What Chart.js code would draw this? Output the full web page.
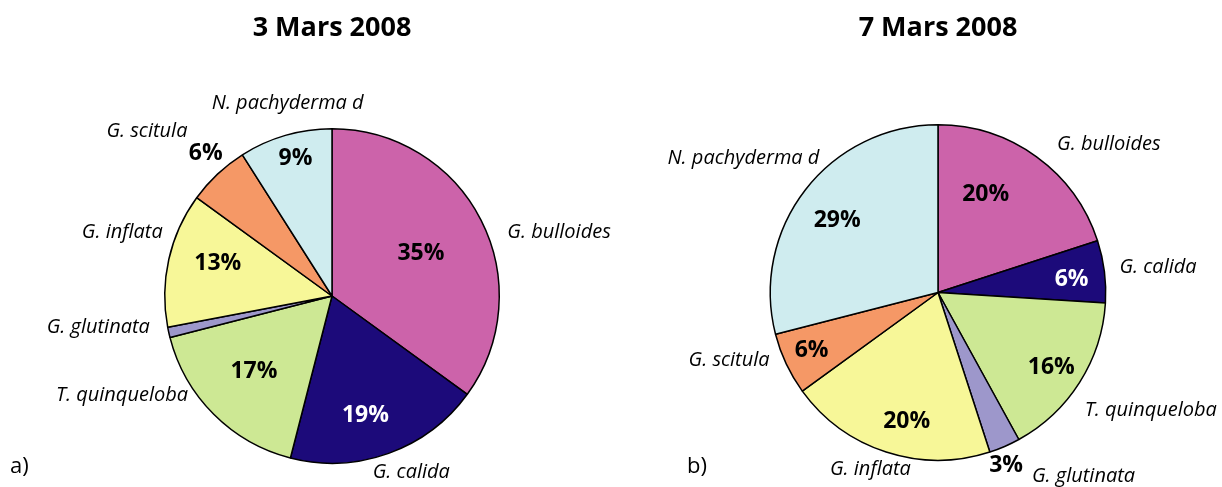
<!DOCTYPE html>
<html>
<head>
<meta charset="utf-8">
<script src="https://cdn.jsdelivr.net/npm/chart.js@4.4.1/dist/chart.umd.min.js"></script>
<style>
  html, body { margin: 0; padding: 0; background: #fff; }
  .pie { position: absolute; top: 0; width: 611px; height: 487px; }
</style>
</head>
<body>
<div class="pie" style="left:0"><canvas id="pieA"></canvas></div>
<div class="pie" style="left:611px"><canvas id="pieB"></canvas></div>
<script>
const species = ["G. bulloides", "G. calida", "T. quinqueloba", "G. glutinata", "G. inflata", "G. scitula", "N. pachyderma d"];
const mars3 = [35, 19, 17, 1, 13, 6, 9];
const mars7 = [20, 6, 16, 3, 20, 6, 29];
const sliceColors = ["#cc63aa", "#1c0a7a", "#cde894", "#9d97cb", "#f7f798", "#f59866", "#cfecef"];
const pctColors = ["#000", "#fff", "#000", "#000", "#000", "#000", "#000"];

// label placement per slice: [fraction along the slice angle, fraction of radius]
const pctPosA = [[0.51, 0.59], [0.56, 0.74], [0.515, 0.65], null, [0.57, 0.71], [0.58, 1.14], [0.54, 0.85]];
const namePosA = [[0.59, 1.41], [0.435, 1.155], [0.82, 1.39], [1.86, 1.41], [0.59, 1.31], [0.26, 1.48], [0.6, 1.18]];
const pctPosB = [[0.36, 0.65], [0.58, 0.80], [0.52, 0.81], [0.68, 1.11], [0.44, 0.79], [0.52, 0.83], [0.48, 0.74]];
const namePosB = [[0.68, 1.35], [0.535, 1.32], [0.44, 1.45], [-0.88, 1.40], [0.54, 1.13], [0.83, 1.31], [0.47, 1.41]];

const sliceLabels = {
  id: "sliceLabels",
  afterDatasetsDraw(chart, args, opts) {
    const ctx = chart.ctx;
    const meta = chart.getDatasetMeta(0);
    const values = chart.data.datasets[0].data;
    ctx.save();
    ctx.textAlign = "center";
    ctx.textBaseline = "middle";
    meta.data.forEach((arc, i) => {
      const p = arc.getProps(["x", "y", "startAngle", "endAngle", "outerRadius"], true);
      const at = (t, f) => {
        const a = p.startAngle + t * (p.endAngle - p.startAngle);
        return [p.x + Math.cos(a) * f * p.outerRadius, p.y + Math.sin(a) * f * p.outerRadius];
      };
      if (opts.pct[i]) {
        const [px, py] = at(opts.pct[i][0], opts.pct[i][1]);
        ctx.font = "bold 23px 'Open Sans'";
        ctx.fillStyle = pctColors[i];
        ctx.fillText(values[i] + "%", px, py);
      }
      const [nx, ny] = at(opts.names[i][0], opts.names[i][1]);
      ctx.font = "italic 20px 'Open Sans'";
      ctx.fillStyle = "#000";
      ctx.fillText(chart.data.labels[i], nx, ny);
    });
    ctx.font = "22px 'Open Sans'";
    ctx.textAlign = "left";
    ctx.fillText(opts.tag, opts.tagX, 467);
    ctx.restore();
  }
};

function makePie(id, title, values, areaTop, pad, pct, names, tag, tagX) {
  return new Chart(document.getElementById(id), {
    type: "pie",
    data: {
      labels: species,
      datasets: [{
        data: values,
        backgroundColor: sliceColors,
        borderColor: "#000",
        borderWidth: 1.5
      }]
    },
    options: {
      responsive: true,
      maintainAspectRatio: false,
      animation: false,
      layout: { padding: pad },
      plugins: {
        legend: { display: false },
        tooltip: { enabled: false },
        title: {
          display: true,
          text: title,
          color: "#000",
          font: { family: "'Open Sans'", size: 27, weight: "bold", lineHeight: 1.2 },
          padding: { top: 12, bottom: areaTop - 12 - 32.4 }
        },
        sliceLabels: { pct: pct, names: names, tag: tag, tagX: tagX }
      }
    },
    plugins: [sliceLabels]
  });
}

makePie("pieA", "3 Mars 2008", mars3, 128, { left: 164, right: 111, top: 0, bottom: 23 }, pctPosA, namePosA, "a)", 10);
makePie("pieB", "7 Mars 2008", mars7, 124, { left: 158, right: 115, top: 0, bottom: 26 }, pctPosB, namePosB, "b)", 76);
</script>
</body>
</html>
